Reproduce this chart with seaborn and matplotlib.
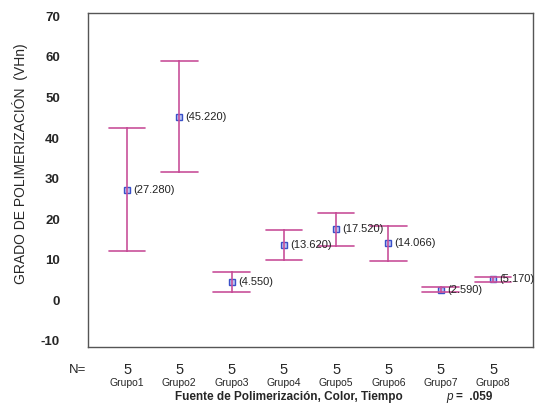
import pandas as pd
import seaborn as sns
import matplotlib.pyplot as plt

# group means (shown as labels) and half-width of the 95% CI bars
grupos = ['Grupo1', 'Grupo2', 'Grupo3', 'Grupo4', 'Grupo5', 'Grupo6', 'Grupo7', 'Grupo8']
medias = [27.280, 45.220, 4.550, 13.620, 17.520, 14.066, 2.590, 5.170]
etiquetas = ['(27.280)', '(45.220)', '(4.550)', '(13.620)', '(17.520)', '(14.066)', '(2.590)', '(5.170)']
semi_ic = [15.1, 13.7, 2.5, 3.7, 4.0, 4.3, 0.6, 0.6]
n_grupo = [5, 5, 5, 5, 5, 5, 5, 5]


def build_frame():
    # lower limit, mean, upper limit per group -> median gives the mean, min/max give the bar
    rows = []
    for g, m, h in zip(grupos, medias, semi_ic):
        for v in (m - h, m, m + h):
            rows.append({'grupo': g, 'valor': v})
    return pd.DataFrame(rows)


def main():
    df = build_frame()

    sns.set_style('white')
    plt.rcParams['font.family'] = ['Liberation Sans', 'DejaVu Sans']
    plt.rcParams['axes.unicode_minus'] = False

    fig = plt.figure(figsize=(5.42, 4.05), dpi=100)
    ax = fig.add_axes([0.162, 0.143, 0.821, 0.825])

    sns.pointplot(data=df, x='grupo', y='valor', order=grupos,
                  estimator='median', errorbar=lambda v: (v.min(), v.max()),
                  capsize=0.7, linestyle='none', markers='s',
                  color='#3a50c8', markersize=4.5, markerfacecolor='#b8c4f4',
                  markeredgewidth=1.0,
                  err_kws={'color': '#c8509a', 'linewidth': 1.2}, ax=ax)

    for i, (m, lab) in enumerate(zip(medias, etiquetas)):
        ax.text(i + 0.12, m, lab, fontsize=8, va='center', ha='left', color='#222222')

    ax.set_xlim(-0.75, 7.76)
    ax.set_ylim(-11.5, 70.8)
    ax.set_yticks(range(-10, 71, 10))
    ax.tick_params(axis='y', labelsize=9.5, length=2, width=1.5, pad=18)
    ax.tick_params(axis='x', length=2, width=1.5, labelbottom=False)
    for lab in ax.get_yticklabels():
        lab.set_fontweight('bold')
    for s in ax.spines.values():
        s.set_color('#555555')
        s.set_linewidth(1.0)

    ax.set_xlabel('')
    ax.set_ylabel('GRADO DE POLIMERIZACIÓN  (VHn)', fontsize=10)
    ax.yaxis.set_label_coords(-0.135, 0.55)

    # N row and group names under the axis
    trans = ax.get_xaxis_transform()
    ax.text(-0.95, -0.068, 'N=', transform=trans, fontsize=9.5, ha='center', va='center')
    for i, (g, n) in enumerate(zip(grupos, n_grupo)):
        ax.text(i, -0.068, str(n), transform=trans, fontsize=10.5, ha='center', va='center')
        ax.text(i, -0.108, g, transform=trans, fontsize=7.5, ha='center', va='center')
    ax.text(3.1, -0.148, 'Fuente de Polimerización, Color, Tiempo', transform=trans,
            fontsize=8.5, ha='center', va='center', fontweight='bold')
    ax.text(6.1, -0.148, 'p', transform=trans, fontsize=8.5, style='italic',
            ha='left', va='center')
    ax.text(6.3, -0.148, '=  .059', transform=trans, fontsize=8.5,
            ha='left', va='center', fontweight='bold')

    fig.savefig('out.png', dpi=100)


if __name__ == '__main__':
    main()
